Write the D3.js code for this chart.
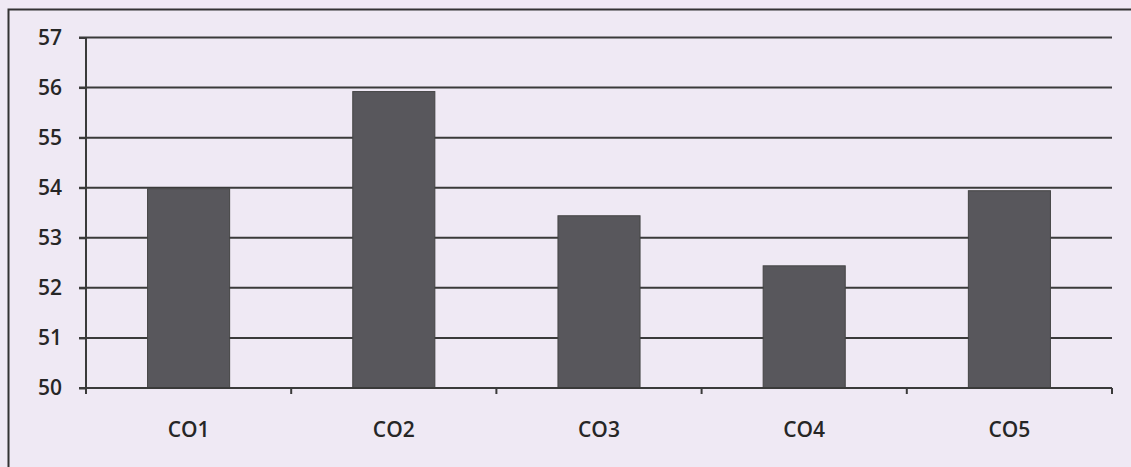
<!DOCTYPE html>
<html>
<head>
<meta charset="utf-8">
<script src="https://cdn.jsdelivr.net/npm/d3@7"></script>
<style>
  body { margin: 0; background: #efe9f4; }
  svg { display: block; }
</style>
</head>
<body>
<div id="viz"></div>
<script>
var categories = ["CO1", "CO2", "CO3", "CO4", "CO5"];
var values = [53.98, 55.92, 53.44, 52.44, 53.94];
var yTicks = [50, 51, 52, 53, 54, 55, 56, 57];

var W = 1131, H = 467;
var margin = {top: 37.5, right: 19, bottom: 79, left: 86};
var width = W - margin.left - margin.right,
    height = H - margin.top - margin.bottom;
var font = '"Open Sans", "Noto Sans", sans-serif';

var svg = d3.select('#viz').append('svg')
    .attr('width', W)
    .attr('height', H);

// outer frame
svg.append('rect')
    .attr('x', 8.5).attr('y', 9.5)
    .attr('width', W + 20).attr('height', H + 20)
    .attr('fill', 'none')
    .attr('stroke', '#333')
    .attr('stroke-width', 2);

var g = svg.append('g')
    .attr('transform', 'translate(' + margin.left + ',' + margin.top + ')');

var x = d3.scaleBand()
    .domain(categories)
    .range([0, width])
    .paddingInner(0.6)
    .paddingOuter(0.3);

var y = d3.scaleLinear()
    .domain([50, 57])
    .range([height, 0]);

// gridlines
g.selectAll('line.grid')
    .data(yTicks.slice(1))
    .enter().append('line')
    .attr('class', 'grid')
    .attr('x1', -7).attr('x2', width)
    .attr('y1', function(d) { return y(d); })
    .attr('y2', function(d) { return y(d); })
    .attr('stroke', '#3a3a3a')
    .attr('stroke-width', 2);

// bars
g.selectAll('rect.bar')
    .data(values)
    .enter().append('rect')
    .attr('class', 'bar')
    .attr('x', function(d, i) { return x(categories[i]); })
    .attr('width', x.bandwidth())
    .attr('y', function(d) { return y(d); })
    .attr('height', function(d) { return height - y(d); })
    .attr('fill', '#58575c')
    .attr('stroke', '#444')
    .attr('stroke-width', 1);

// y axis
var yAxis = g.append('g')
    .attr('class', 'axis y')
    .call(d3.axisLeft(y).tickValues(yTicks).tickFormat(d3.format('d')).tickSize(7).tickPadding(17));
yAxis.attr('font-family', font).attr('font-size', 21).attr('font-weight', 600);
yAxis.selectAll('text').attr('fill', '#262626');
yAxis.selectAll('path, line').attr('stroke', '#3a3a3a').attr('stroke-width', 2);
yAxis.select('.domain').attr('d', 'M0,' + height + 'V0');

// x axis with ticks at band boundaries
var xAxis = g.append('g')
    .attr('class', 'axis x')
    .attr('transform', 'translate(0,' + height + ')')
    .attr('font-family', font)
    .attr('font-size', 21)
    .attr('font-weight', 600);
xAxis.append('line')
    .attr('x1', -7).attr('x2', width)
    .attr('stroke', '#3a3a3a').attr('stroke-width', 2);
var step = width / categories.length;
xAxis.selectAll('line.tick')
    .data(d3.range(categories.length + 1))
    .enter().append('line')
    .attr('class', 'tick')
    .attr('x1', function(d) { return d * step; })
    .attr('x2', function(d) { return d * step; })
    .attr('y1', 0).attr('y2', 6)
    .attr('stroke', '#3a3a3a').attr('stroke-width', 2);
xAxis.selectAll('text')
    .data(categories)
    .enter().append('text')
    .attr('x', function(d) { return x(d) + x.bandwidth() / 2; })
    .attr('y', 49)
    .attr('text-anchor', 'middle')
    .attr('fill', '#262626')
    .text(function(d) { return d; });
</script>
</body>
</html>
